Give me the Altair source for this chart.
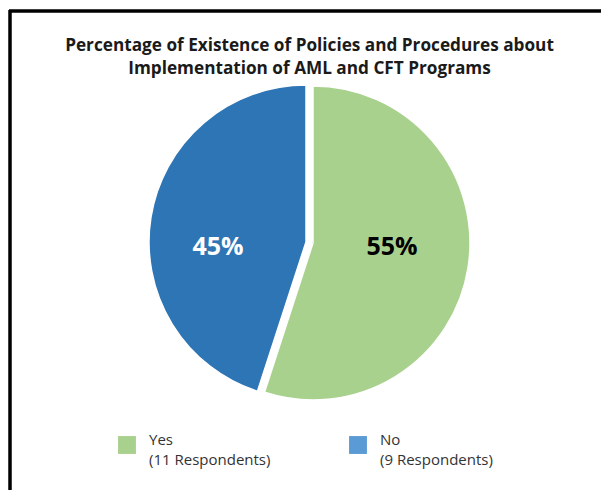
import altair as alt
import pandas as pd

# ---- data ----
categories = ["Yes", "No"]
percentages = [55, 45]
respondents = [11, 9]
slice_colors = ["#a9d18e", "#2e75b6"]
legend_colors = ["#a9d18e", "#5b9bd5"]
label_colors = ["#000000", "#ffffff"]
title_lines = ["Percentage of Existence of Policies and Procedures about",
               "Implementation of AML and CFT Programs"]

df = pd.DataFrame({
    "category": categories,
    "value": percentages,
    "order": list(range(len(categories))),
    "respondents": respondents,
})

FONT = "Open Sans"
CX, CY, R = 313, 243, 157

label_map = {c: [c, f"({n} Respondents)"] for c, n in zip(categories, respondents)}
label_expr = " : ".join(
    [f"datum.label == '{c}' ? ['{l[0]}', '{l[1]}']" for c, l in label_map.items()]
) + " : datum.label"

theta_scale = alt.Scale(domain=[0, 100])

base = alt.Chart(df).transform_stack(
    stack="value", as_=["start", "end"], groupby=[], sort=[alt.SortField("order")]
).transform_calculate(mid="(datum.start + datum.end) / 2")


def slice_layer(cat, dx, dy, text_dy, text_r):
    b = base.transform_filter(alt.datum.category == cat)
    arc = b.mark_arc(stroke="white", strokeWidth=1.5, xOffset=dx, yOffset=dy).encode(
        theta=alt.Theta("start:Q", scale=theta_scale),
        theta2="end:Q",
        radius=alt.value(R),
        x=alt.value(CX),
        y=alt.value(CY),
        color=alt.Color("category:N",
                        scale=alt.Scale(domain=categories, range=slice_colors),
                        legend=None),
    )
    i = categories.index(cat)
    txt = b.mark_text(font=FONT, fontSize=25, fontWeight="bold",
                      color=label_colors[i], xOffset=dx, yOffset=dy + text_dy).encode(
        theta=alt.Theta("mid:Q", scale=theta_scale),
        radius=alt.value(text_r),
        x=alt.value(CX),
        y=alt.value(CY),
        text=alt.Text("label:N"),
    ).transform_calculate(label="format(datum.value, 'd') + '%'")
    return arc + txt


yes_layer = slice_layer("Yes", 0, 0, -9, 80)
no_layer = slice_layer("No", -7, -1, 19, 89)

# hidden layer (drawn beneath the pie) that carries the legend with legend colours
legend_layer = alt.Chart(df).mark_square(size=4).encode(
    x=alt.value(CX), y=alt.value(CY),
    fill=alt.Fill("category:N",
                  scale=alt.Scale(domain=categories, range=legend_colors),
                  sort=categories,
                  legend=alt.Legend(
                      title=None, orient="none", legendX=118, legendY=436,
                      direction="horizontal", columns=2, columnPadding=78,
                      symbolType="square", symbolSize=320, symbolOpacity=1,
                      symbolStrokeWidth=0, labelFont=FONT, labelFontSize=15,
                      labelColor="#333333", labelOffset=13,
                      labelBaseline="alphabetic",
                      labelExpr=label_expr, labelLimit=300,
                  )),
)

border_top = alt.Chart(df).mark_rule(color="#000000", strokeWidth=3).encode(
    x=alt.value(9), x2=alt.value(601), y=alt.value(11))
border_left = alt.Chart(df).mark_rule(color="#000000", strokeWidth=3).encode(
    x=alt.value(10), y=alt.value(10), y2=alt.value(490))

chart = alt.layer(
    border_top, border_left, legend_layer, yes_layer, no_layer
).properties(
    width=601, height=490,
    autosize=alt.AutoSizeParams(type="none"),
    padding=0,
    title=alt.Title(title_lines, font=FONT, fontSize=17.2, fontWeight="bold",
                    color="#1a1a1a", offset=-77, anchor="middle", lineHeight=22.5,
                    dx=9),
).configure(
    background="white",
    style={"guide-label": {"lineHeight": 20}},
).configure_view(stroke=None)

chart.save("out.html", embed_options={"renderer": "svg", "actions": False})
